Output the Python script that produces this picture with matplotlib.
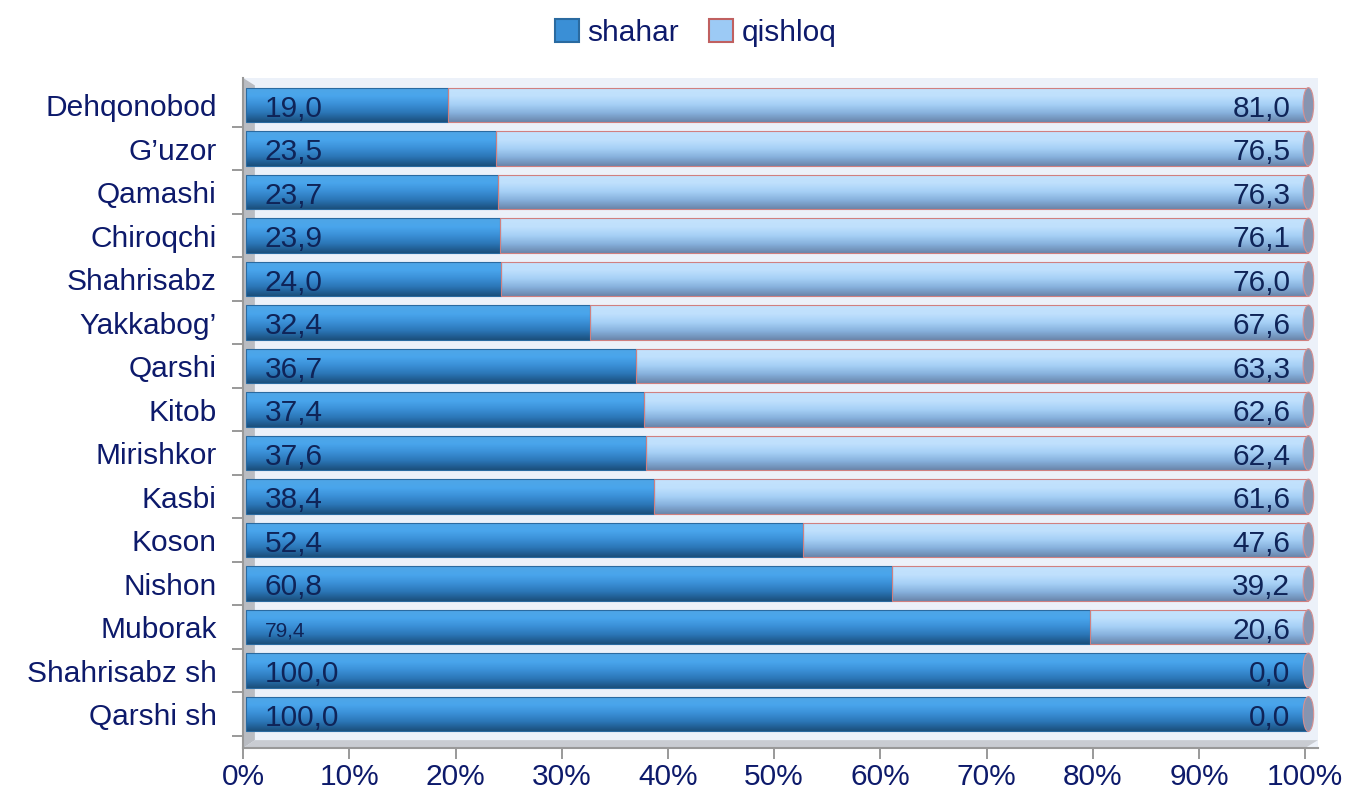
import numpy as np
import matplotlib.pyplot as plt
from matplotlib.patches import Ellipse, Polygon, Rectangle
from matplotlib.colors import LinearSegmentedColormap

plt.rcParams['font.family'] = ['Liberation Sans', 'DejaVu Sans']

# Данные (сверху вниз как на картинке)
districts = ['Dehqonobod', 'G\u2019uzor', 'Qamashi', 'Chiroqchi', 'Shahrisabz',
             'Yakkabog\u2019', 'Qarshi', 'Kitob', 'Mirishkor', 'Kasbi', 'Koson',
             'Nishon', 'Muborak', 'Shahrisabz sh', 'Qarshi sh']
shahar = [19.0, 23.5, 23.7, 23.9, 24.0, 32.4, 36.7, 37.4, 37.6, 38.4, 52.4,
          60.8, 79.4, 100.0, 100.0]
qishloq = [81.0, 76.5, 76.3, 76.1, 76.0, 67.6, 63.3, 62.6, 62.4, 61.6, 47.6,
           39.2, 20.6, 0.0, 0.0]

text_color = '#0d1a6b'
label_color = '#0f2458'

cmap_sh = LinearSegmentedColormap.from_list('sh', ['#4fa6e6', '#49a5ec', '#3a8fd6', '#2a74b4', '#1b4f7c'])
cmap_qi = LinearSegmentedColormap.from_list('qi', ['#c4e2fc', '#bfe0fd', '#a6d0f6', '#86b0dc', '#6a86ab'])


def gradient_bar(ax, left, width, y, h, cmap, edge):
    if width <= 0:
        return
    rect = Rectangle((left, y - h / 2), width, h, facecolor='none',
                     edgecolor=edge, linewidth=0.8, zorder=3)
    ax.add_patch(rect)
    grad = np.linspace(0, 1, 64).reshape(-1, 1)
    im = ax.imshow(grad, cmap=cmap, aspect='auto', origin='upper',
                   extent=(left, left + width, y - h / 2, y + h / 2), zorder=2)
    im.set_clip_path(rect)


fig = plt.figure(figsize=(13.51, 7.9), dpi=100)
ax = fig.add_axes([0.18, 0.0532, 1062 * 1.012 / 1351, 0.848])

n = len(districts)
ys = np.arange(n)[::-1]
h = 0.8

ax.set_facecolor('#ecf1f9')
ax.set_xlim(0, 101.2)
ax.set_ylim(-0.78, n - 1 + 0.62)

# боковая стенка (3D эффект)
wall = Polygon([(0, -0.78), (0, n - 1 + 0.62), (1.1, n - 1 + 0.45), (1.1, -0.6)],
               closed=True, facecolor='#b9bcc2', edgecolor='none', zorder=1)
ax.add_patch(wall)
floor = Polygon([(0, -0.78), (100, -0.78), (101.2, -0.6), (1.1, -0.6)],
                closed=True, facecolor='#c9ccd2', edgecolor='none', zorder=1)
ax.add_patch(floor)

for y, s, q in zip(ys, shahar, qishloq):
    gradient_bar(ax, 0.3, s, y, h, cmap_sh, '#2a6aa0')
    gradient_bar(ax, 0.3 + s, q, y, h, cmap_qi, '#d08080')
    cap = Ellipse((100.3, y), 1.0, h, facecolor='#8794b0', edgecolor='#d89090',
                  linewidth=0.8, zorder=4)
    ax.add_patch(cap)
    fs = 15 if s == 79.4 else 21.5
    ax.text(2.0, y - 0.08, f'{s:.1f}'.replace('.', ','), ha='left', va='center',
            fontsize=fs, color=label_color, zorder=5)
    ax.text(98.6, y - 0.08, f'{q:.1f}'.replace('.', ','), ha='right', va='center',
            fontsize=21.5, color=label_color, zorder=5)

ax.set_yticks(ys)
ax.set_yticklabels(districts, fontsize=21.5, color=text_color)
ax.set_yticks(np.arange(n) - 0.5, minor=True)
ax.tick_params(axis='y', which='major', length=0, pad=19)
ax.tick_params(axis='y', which='minor', length=8, color='#888888', width=1.2)

ticks = np.arange(0, 101, 10)
ax.set_xticks(ticks)
ax.set_xticklabels([f'{t}%' for t in ticks], fontsize=21.5, color=text_color)
ax.tick_params(axis='x', length=8, color='#888888', width=1.2, pad=3)

for side in ['top', 'right']:
    ax.spines[side].set_visible(False)
ax.spines['left'].set_color('#999999')
ax.spines['left'].set_linewidth(1.5)
ax.spines['bottom'].set_color('#999999')
ax.spines['bottom'].set_linewidth(1.5)

h1 = Rectangle((0, 0), 1, 1, facecolor='#3a8fd6', edgecolor='#2a6aa0', linewidth=1.5)
h2 = Rectangle((0, 0), 1, 1, facecolor='#9ccaf5', edgecolor='#c06060', linewidth=1.5)
fig.legend([h1, h2], ['shahar', 'qishloq'], loc='upper center',
           bbox_to_anchor=(0.515, 1.01), ncol=2, frameon=False, fontsize=21.5,
           handlelength=0.8, handleheight=0.8, handletextpad=0.3, columnspacing=1.0,
           labelcolor=text_color)

fig.savefig('out.png', dpi=100)
